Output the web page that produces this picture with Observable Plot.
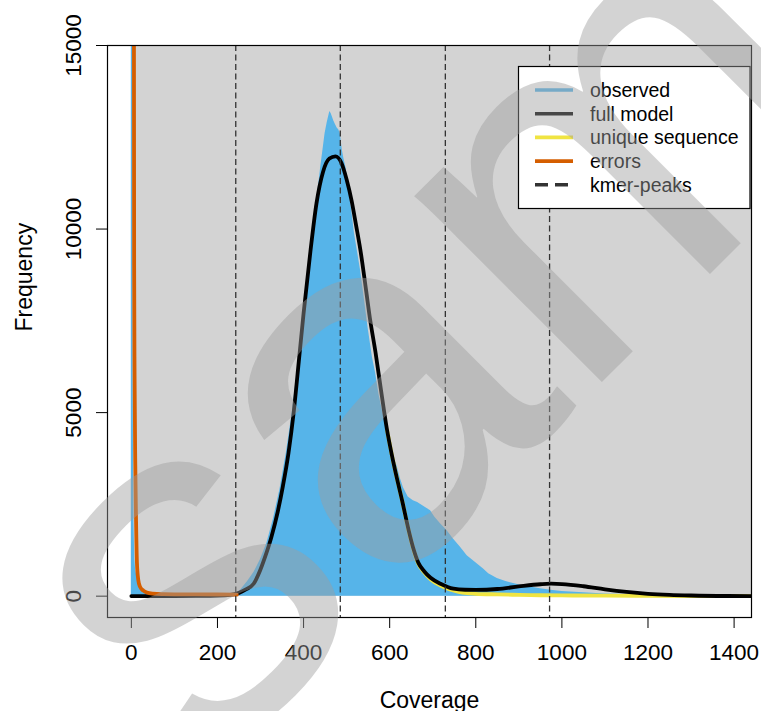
<!DOCTYPE html>
<html>
<head>
<meta charset="utf-8">
<script src="https://cdn.jsdelivr.net/npm/d3@7"></script>
<script src="https://cdn.jsdelivr.net/npm/@observablehq/plot@0.6"></script>
<style>
  html, body { margin: 0; padding: 0; background: #fff; }
  #wrap { position: relative; width: 761px; height: 711px; overflow: hidden; }
  #wm { position: absolute; left: 0; top: 0; pointer-events: none; }
</style>
</head>
<body>
<div id="wrap"></div>
<script>
// ---- data ----
const xTicks = [0, 200, 400, 600, 800, 1000, 1200, 1400];
const yTicks = [0, 5000, 10000, 15000];
const kmerPeaks = [242.5, 485.3, 729.3, 971.4];

const obsCov = [0, 2, 3, 4, 6, 8, 10, 14, 18, 22, 30, 40, 60, 100, 150, 200, 230, 245, 255, 270, 285, 300, 315, 330, 345, 360, 375, 390, 400, 410, 420, 425, 431, 436, 440, 445, 450, 455, 458, 461, 464, 467, 470, 474, 478, 482, 485, 487, 490, 494, 499, 504, 509, 514, 518, 525, 532, 540, 550, 560, 567, 575, 585, 594, 605, 617, 625, 632, 643, 655, 665, 675, 685, 695, 705, 718, 733, 748, 764, 780, 803, 818, 830, 850, 870, 890, 904, 930, 950, 975, 1000, 1050, 1100, 1150, 1200, 1250, 1300, 1385, 1500];
const obsFreq = [60000, 60000, 20000, 6000, 2000, 1000, 700, 500, 350, 250, 120, 60, 30, 20, 20, 25, 35, 60, 180, 400, 650, 1000, 1450, 2100, 2900, 3900, 5100, 6600, 7700, 8700, 9600, 10100, 10800, 11300, 11700, 12150, 12600, 12900, 13050, 13200, 13150, 13050, 12950, 12850, 12750, 12700, 12600, 12450, 12150, 11900, 11650, 11200, 10750, 10300, 9900, 9400, 8900, 8200, 7300, 6500, 6100, 5500, 4950, 4450, 3900, 3550, 3200, 2950, 2700, 2600, 2550, 2480, 2400, 2330, 2150, 1970, 1790, 1560, 1340, 1100, 880, 740, 610, 480, 400, 340, 300, 240, 200, 160, 130, 90, 60, 45, 30, 20, 12, 5, 2];

const modelCov = [0, 50, 100, 150, 200, 230, 250, 265, 284, 299, 310, 325, 340, 352, 365, 377, 389, 400, 416, 430, 445, 460, 474, 488, 500, 512, 522, 532, 545, 555, 567, 580, 594, 605, 617, 629, 644, 655, 667, 680, 695, 718, 748, 775, 800, 850, 900, 950, 975, 1000, 1050, 1100, 1150, 1200, 1250, 1300, 1385, 1500];
const modelFreq = [2, 3, 5, 8, 15, 35, 90, 180, 338, 700, 1050, 1600, 2300, 3000, 3900, 5000, 6400, 7700, 9400, 10700, 11550, 11920, 11980, 11800, 11350, 10750, 10100, 9430, 8350, 7500, 6650, 5600, 4520, 3850, 3200, 2600, 1800, 1300, 900, 680, 500, 340, 205, 175, 172, 195, 265, 325, 340, 330, 270, 185, 115, 65, 35, 18, 5, 1];

const uniqueCov = [594, 605, 617, 629, 644, 655, 667, 680, 695, 718, 740, 760, 780, 800, 850, 900, 950, 1000, 1100, 1200, 1300, 1500];
const uniqueFreq = [4520, 3850, 3200, 2600, 1790, 1280, 870, 650, 460, 290, 180, 115, 80, 65, 48, 35, 25, 20, 14, 9, 5, 1];

const errCov = [5, 6, 6.5, 7.5, 9, 11, 13, 16, 20, 28, 36, 50, 75, 100, 150, 200, 245];
const errFreq = [40000, 15500, 9000, 6000, 3700, 2000, 900, 450, 260, 150, 100, 70, 55, 50, 48, 45, 40];

const bgRect = [{x1: 0, x2: 1500, y1: 0, y2: 20000}];

const legendLabels = ["observed", "full model", "unique sequence", "errors", "kmer-peaks"];
const legendColors = ["#56B4E9", "#000000", "#F0E442", "#D55E00", "#333333"];

const watermarkText = "sample";

// ---- tables ----
const obs = obsCov.map((c, i) => ({cov: c, freq: obsFreq[i]}));
const model = modelCov.map((c, i) => ({cov: c, freq: modelFreq[i]}));
const uniq = uniqueCov.map((c, i) => ({cov: c, freq: uniqueFreq[i]}));
const errs = errCov.map((c, i) => ({cov: c, freq: errFreq[i]}));

const font = "'Liberation Sans', Arial, Helvetica, sans-serif";

const chart = Plot.plot({
  width: 761,
  height: 711,
  marginLeft: 107,
  marginRight: 10,
  marginTop: 45,
  marginBottom: 94,
  x: {domain: [-55.4, 1440.4]},
  y: {domain: [-581, 15000]},
  style: {fontFamily: font, background: "#fff", color: "#000"},
  marks: [
    Plot.rect(bgRect, {x1: "x1", x2: "x2", y1: "y1", y2: "y2", fill: "#d3d3d3", clip: true}),
    Plot.areaY(obs, {x: "cov", y: "freq", fill: "#56B4E9", clip: true}),
    Plot.line(uniq, {x: "cov", y: "freq", stroke: "#F0E442", strokeWidth: 3.8, curve: "monotone-x", clip: true}),
    Plot.line(model, {x: "cov", y: "freq", stroke: "#000", strokeWidth: 3.8, curve: "monotone-x", clip: true}),
    Plot.line(errs, {x: "cov", y: "freq", stroke: "#D55E00", strokeWidth: 3.8, curve: "monotone-x", clip: true}),
    Plot.ruleX(kmerPeaks, {stroke: "#333", strokeWidth: 1.3, strokeDasharray: "6,3.5"}),
    Plot.frame({stroke: "#000", strokeWidth: 1.2}),
    Plot.axisX({ticks: xTicks, tickSize: 11, tickPadding: 16, fontSize: 22.5, label: null, tickFormat: d => String(d)}),
    Plot.axisY({ticks: yTicks, tickSize: 11, tickPadding: 16, tickRotate: -90, fontSize: 22.5, label: null, tickFormat: d => String(d)}),
    Plot.text(["Coverage"], {frameAnchor: "bottom", lineAnchor: "bottom", dy: 90, fontSize: 23}),
    Plot.text(["Frequency"], {frameAnchor: "left", lineAnchor: "bottom", rotate: -90, dx: -76, fontSize: 23})
  ]
});

document.getElementById("wrap").appendChild(chart);

// legend inside the plot
const svg = d3.select(chart);
const lg = svg.append("g").attr("font-family", font).attr("text-anchor", "start");
lg.append("rect").attr("x", 518.5).attr("y", 66.5).attr("width", 231.5).attr("height", 142)
  .attr("fill", "#fff").attr("stroke", "#000").attr("stroke-width", 1.2);
legendLabels.forEach((lab, i) => {
  const y = 90 + i * 23.7;
  lg.append("line").attr("x1", 535).attr("x2", 573).attr("y1", y).attr("y2", y)
    .attr("stroke", legendColors[i]).attr("stroke-width", 3.6)
    .attr("stroke-dasharray", i === 4 ? "13,7" : null);
  lg.append("text").attr("x", 590).attr("y", y).attr("dy", "0.35em")
    .attr("text-anchor", "start")
    .attr("font-size", 19.5).attr("fill", "#000").text(lab);
});

// watermark overlay
const wm = d3.select("#wrap").append("svg").attr("id", "wm").attr("width", 761).attr("height", 711);
wm.append("text").attr("x", 204).attr("y", 780)
  .attr("transform", "rotate(-45,204,780)")
  .attr("text-anchor", "start")
  .attr("font-family", font).attr("font-size", 500)
  .attr("fill", "#9e9e9e").attr("fill-opacity", 0.45)
  .text(watermarkText);
</script>
</body>
</html>
